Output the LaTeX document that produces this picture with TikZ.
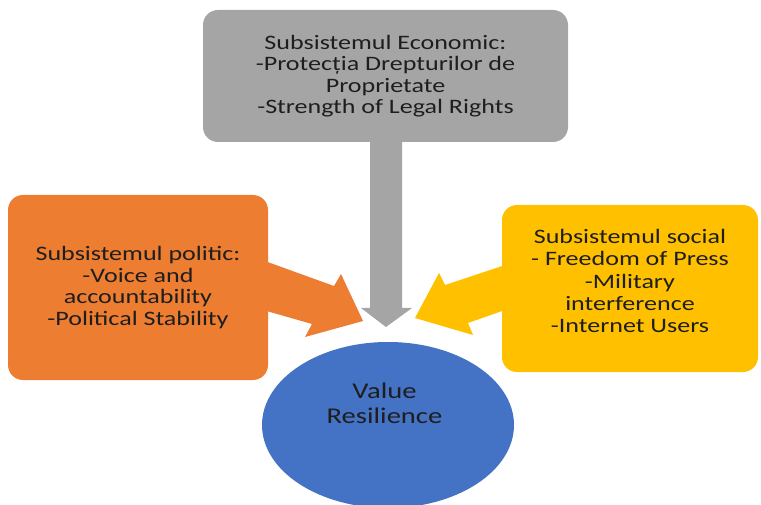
\documentclass[tikz,border=0pt]{standalone}
\usepackage{fontspec}
\setmainfont{Carlito}[FakeStretch=1.27]
\usetikzlibrary{shapes.geometric}
\definecolor{grayc}{HTML}{A5A5A5}
\definecolor{orangec}{HTML}{ED7D31}
\definecolor{yellowc}{HTML}{FFC000}
\definecolor{bluec}{HTML}{4472C4}
\definecolor{txt}{HTML}{1E1E1E}
\begin{document}
\begin{tikzpicture}[x=1pt,y=-1pt,
  box/.style={rounded corners=15pt, inner sep=0pt, align=center, text=txt,
    font=\fontsize{20.5}{21.5}\selectfont},
  label/.style={inner sep=0pt, align=center, text=txt},
  blockarrow/.style={draw=none}
]
\useasboundingbox (0,0) rectangle (761,505);
% block arrows
\fill[grayc, blockarrow] (370,140) -- (370,308) -- (361,308) -- (386,327) -- (412,308) -- (402,308) -- (402,140) -- cycle;
\fill[orangec, blockarrow] (262,260) -- (334,286) -- (341,274) -- (363,321) -- (305,337) -- (312,324) -- (262,309.7) -- cycle;
\fill[yellowc, blockarrow] (505,265) -- (445,285) -- (439,273) -- (415,318) -- (473,335) -- (468,323) -- (505,310) -- cycle;
% boxes
\node[box, fill=grayc, minimum width=365pt, minimum height=132pt] (eco) at (385.5,76)
  {Subsistemul Economic:\\-Protecția Drepturilor de\\Proprietate\\-Strength of Legal Rights};
\node[box, fill=orangec, minimum width=260pt, minimum height=185pt] (pol) at (138,287.5)
  {Subsistemul politic:\\-Voice and\\accountability\\-Political Stability};
\node[box, fill=yellowc, minimum width=256pt, minimum height=167pt] (soc) at (630,288.5) {};
\node[label, font=\fontsize{20.5}{22.3}\selectfont] (soct) at (630,281)
  {Subsistemul social\\- Freedom of Press\\-Military\\interference\\-Internet Users};
\node[ellipse, fill=bluec, minimum width=252pt, minimum height=166pt, inner sep=0pt] (vr) at (388,425) {};
\node[label, font=\fontsize{22.5}{24.5}\selectfont] (vrt) at (384.5,403.5) {Value\\Resilience};
\end{tikzpicture}
\end{document}
